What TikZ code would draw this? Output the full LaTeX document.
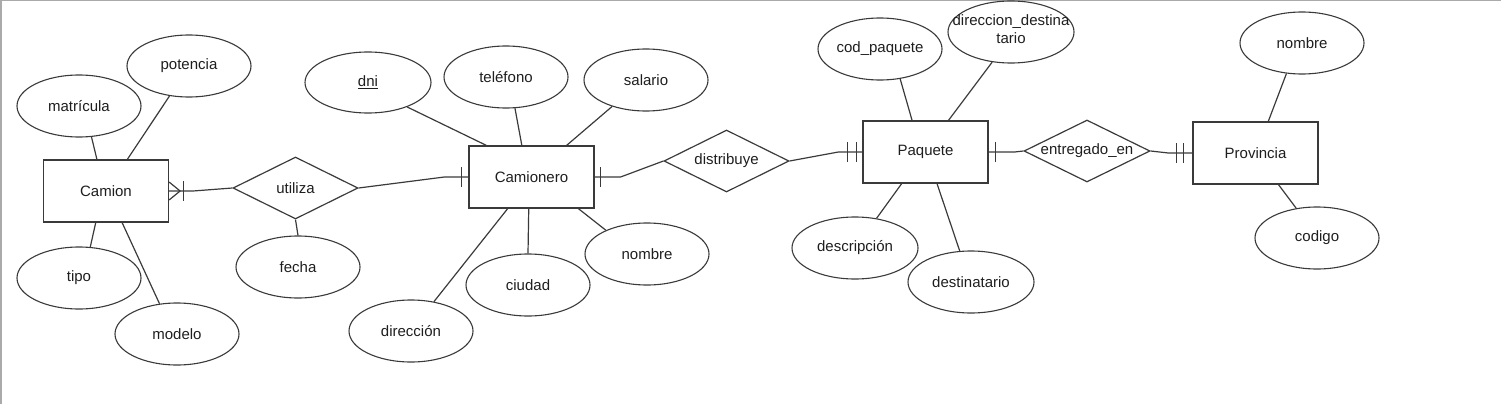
\documentclass[tikz,border=0pt]{standalone}
\usepackage{fontspec}
\setmainfont{Liberation Sans}
\usetikzlibrary{shapes.geometric,calc}
\definecolor{ln}{HTML}{3A3A3A}
\definecolor{tx}{HTML}{1E1E1E}
\definecolor{frame}{HTML}{AAAAAA}
\begin{document}
\begin{tikzpicture}[x=1pt,y=-1pt,
  every node/.style={font=\fontsize{15}{18}\selectfont, text=tx},
  ent/.style={draw=ln, line width=1.2pt, minimum width=125pt, minimum height=62pt, inner sep=0pt},
  rel/.style={diamond, aspect=2, draw=ln, line width=1.2pt, minimum width=125pt, minimum height=62pt, inner sep=0pt},
  attr/.style={ellipse, draw=ln, line width=1.1pt, minimum width=124pt, minimum height=62pt, inner sep=0pt},
  conn/.style={draw=ln, line width=1.2pt}
]
\useasboundingbox (0,0) rectangle (1501,404);
\draw[frame, line width=1.5pt] (0.75,404) -- (0.75,0.75) -- (1501,0.75);

% entities
\node[ent] (camion) at (106,191) {Camion};
\node[ent] (camionero) at (531.5,177) {Camionero};
\node[ent] (paquete) at (925.5,152) {Paquete};
\node[ent] (provincia) at (1255.5,153) {Provincia};

% relationships
\node[rel] (utiliza) at (295.5,188) {utiliza};
\node[rel] (distribuye) at (726.5,161) {distribuye};
\node[rel, minimum width=126pt] (entregado) at (1087,151) {entregado\_en};

% attributes
\node[attr] (matricula) at (79,106) {matrícula};
\node[attr] (potencia) at (189,66) {potencia};
\node[attr] (tipo) at (79,278) {tipo};
\node[attr] (modelo) at (177,334) {modelo};
\node[attr] (fecha) at (298,267) {fecha};
\node[attr, minimum width=126pt, minimum height=61pt] (dni) at (368,82.5) {\underline{dni}};
\node[attr] (telefono) at (506,77) {teléfono};
\node[attr] (salario) at (646,80) {salario};
\node[attr] (nombreC) at (647,254) {nombre};
\node[attr] (ciudad) at (528,285) {ciudad};
\node[attr] (direccion) at (411,331) {dirección};
\node[attr] (cod) at (880,49) {cod\_paquete};
\node[attr, minimum width=126pt] (dd) at (1011,32) {};
\node[align=center, inner sep=0pt] (ddtext) at (1011,29) {direccion\_destina\\tario};
\node[attr, minimum width=126pt] (descripcion) at (855,248) {descripción};
\node[attr, minimum width=126pt] (destinatario) at (971,282) {destinatario};
\node[attr] (nombreP) at (1302,43) {nombre};
\node[attr] (codigo) at (1317,238) {codigo};

% attribute lines
\draw[conn] (camion.106) -- (matricula.292);
\draw[conn] (camion.56) -- (potencia.237);
\draw[conn] (camion.252) -- (tipo.70);
\draw[conn] (camion.297) -- (modelo.120);
\draw[conn] (camionero.145) -- (dni.328);
\draw[conn] (camionero.107) -- (telefono.286);
\draw[conn] (camionero.42) -- (salario.218);
\draw[conn] (camionero.326) -- (nombreC.150);
\draw[conn] (camionero.265) -- (ciudad.90);
\draw[conn] (camionero.233) -- (direccion.52);
\draw[conn] (paquete.113) -- (cod.304);
\draw[conn] (paquete.54) -- (dd.238);
\draw[conn] (paquete.233) -- (descripcion.54);
\draw[conn] (paquete.290) -- (destinatario.110);
\draw[conn] (provincia.68) -- (nombreP.243);
\draw[conn] (provincia.306) -- (codigo.125);
\draw[conn] (utiliza.south) -- (fecha.north);

% Camion -- utiliza (one to many)
\draw[conn] (camion.east) -- ([xshift=24pt]camion.east) -- (utiliza.west);
\draw[conn] ([yshift=9pt]camion.east) -- ([xshift=11pt]camion.east) -- ([yshift=-9pt]camion.east);
\draw[conn] ([xshift=14pt,yshift=10pt]camion.east) -- ([xshift=14pt,yshift=-10pt]camion.east);

% utiliza -- Camionero (one)
\draw[conn] (utiliza.east) -- ([xshift=-24pt]camionero.west) -- (camionero.west);
\draw[conn] ([xshift=-7pt,yshift=10pt]camionero.west) -- ([xshift=-7pt,yshift=-10pt]camionero.west);

% Camionero -- distribuye (one)
\draw[conn] (camionero.east) -- ([xshift=26pt]camionero.east) -- (distribuye.west);
\draw[conn] ([xshift=6pt,yshift=10pt]camionero.east) -- ([xshift=6pt,yshift=-10pt]camionero.east);

% distribuye -- Paquete (mandatory one)
\draw[conn] (distribuye.east) -- ([xshift=-24pt]paquete.west) -- (paquete.west);
\draw[conn] ([xshift=-15pt,yshift=10pt]paquete.west) -- ([xshift=-15pt,yshift=-10pt]paquete.west);
\draw[conn] ([xshift=-6pt,yshift=10pt]paquete.west) -- ([xshift=-6pt,yshift=-10pt]paquete.west);

% Paquete -- entregado_en (one)
\draw[conn] (paquete.east) -- ([xshift=26pt]paquete.east) -- (entregado.west);
\draw[conn] ([xshift=7pt,yshift=10pt]paquete.east) -- ([xshift=7pt,yshift=-10pt]paquete.east);

% entregado_en -- Provincia (mandatory one)
\draw[conn] (entregado.east) -- ([xshift=-24pt]provincia.west) -- (provincia.west);
\draw[conn] ([xshift=-16pt,yshift=10pt]provincia.west) -- ([xshift=-16pt,yshift=-10pt]provincia.west);
\draw[conn] ([xshift=-9pt,yshift=10pt]provincia.west) -- ([xshift=-9pt,yshift=-10pt]provincia.west);
\end{tikzpicture}
\end{document}
